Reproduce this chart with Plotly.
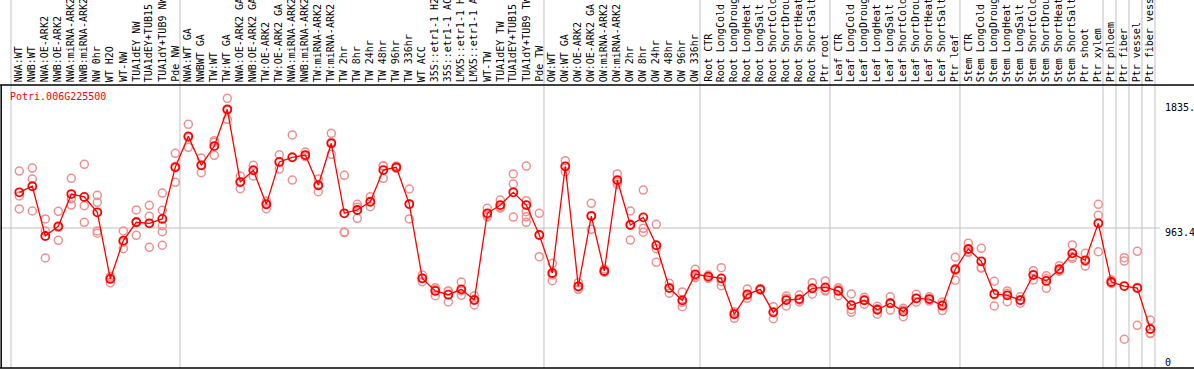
import plotly.graph_objects as go

categories = [
    "NWA:WT", "NWB:WT", "NWA:OE-ARK2", "NWB:OE-ARK2", "NWA:miRNA-ARK2", "NWB:miRNA-ARK2",
    "NW 0hr", "WT H2O", "WT-NW", "TUA1dEY NW", "TUA1dEY+TUB15", "TUA1dY+TUB9 NW", "Pde NW",
    "NWA:WT GA", "NWBWT GA", "TW:WT", "TW:WT GA", "NWA:OE-ARK2 GA", "NWB:OE-ARK2 GA",
    "TW:OE-ARK2", "TW:OE-ARK2 GA", "NWA:miRNA-ARK2", "NWB:miRNA-ARK2", "TW:miRNA-ARK2",
    "TW:miRNA-ARK2", "TW 2hr", "TW 8hr", "TW 24hr", "TW 48hr", "TW 96hr", "TW 336hr", "WT ACC",
    "35S::etr1-1 H2O", "35S::etr1-1 ACC", "LMX5::etr1-1 H2O", "LMX5::etr1-1 ACC", "WT-TW",
    "TUA1dEY TW", "TUA1dEY+TUB15", "TUA1dY+TUB9 TW", "Pde TW",
    "OW:WT", "OW:WT GA", "OW:OE-ARK2", "OW:OE-ARK2 GA", "OW:miRNA-ARK2", "OW:miRNA-ARK2",
    "OW 2hr", "OW 8hr", "OW 24hr", "OW 48hr", "OW 96hr", "OW 336hr",
    "Root CTR", "Root LongCold", "Root LongDrought", "Root LongHeat", "Root LongSalt",
    "Root ShortCold", "Root ShortDrought", "Root ShortHeat", "Root ShortSalt", "Ptr root",
    "Leaf CTR", "Leaf LongCold", "Leaf LongDrought", "Leaf LongHeat", "Leaf LongSalt",
    "Leaf ShortCold", "Leaf ShortDrought", "Leaf ShortHeat", "Leaf ShortSalt", "Ptr leaf",
    "Stem CTR", "Stem LongCold", "Stem LongDrought", "Stem LongHeat", "Stem LongSalt",
    "Stem ShortCold", "Stem ShortDrought", "Stem ShortHeat", "Stem ShortSalt", "Ptr shoot",
    "Ptr xylem", "Ptr phloem", "Ptr fiber", "Ptr vessel", "Ptr fiber vessel",
]

means = [
    1210, 1252, 908, 975, 1198, 1178, 1072, 611, 876, 1003,
    996, 1026, 1383, 1597, 1397, 1530, 1784, 1281, 1362, 1127,
    1420, 1452, 1468, 1259, 1549, 1065, 1088, 1145, 1364, 1383,
    1129, 615, 528, 502, 539, 465, 1065, 1122, 1210, 1122,
    915, 652, 1390, 560, 1046, 666, 1295, 984, 1037, 844,
    548, 463, 643, 627, 615, 367, 505, 539, 380, 465,
    472, 546, 553, 528, 429, 463, 398, 443, 385, 477,
    472, 426, 678, 818, 733, 507, 498, 465, 638, 597,
    678, 788, 740, 996, 590, 562, 548, 265,
]

replicates = [
    [1357, 1185, 1095], [1378, 1302, 1081], [1026, 942, 756], [1079, 968, 878],
    [1307, 1165, 1122], [1404, 1118, 1003], [1189, 1141, 943, 927], [620, 585, 628],
    [943, 865, 820], [1088, 1008, 913], [1120, 1044, 830], [1205, 1086, 979, 938, 844],
    [1480, 1390, 1279], [1680, 1590, 1521], [1447, 1397, 1346], [1567, 1557, 1466],
    [1860, 1777, 1715], [1323, 1285, 1235], [1397, 1366, 1323], [1150, 1134, 1097],
    [1470, 1420, 1371], [1607, 1455, 1295], [1489, 1460, 1456], [1302, 1260, 1214],
    [1618, 1556, 1473], [1328, 935, 932], [1127, 1107, 1030], [1180, 1145, 1111],
    [1392, 1393, 1307], [1392, 1381, 1376], [1233, 1128, 1026], [638, 615, 592],
    [551, 538, 495], [528, 526, 452], [590, 528, 498], [495, 470, 431],
    [1100, 1054, 1041], [1157, 1109, 1100], [1337, 1268, 1039], [1392, 1152, 1076, 1041, 1003],
    [1065, 915, 765], [719, 638, 599], [1429, 1388, 1353], [585, 556, 539],
    [1134, 1050, 954], [680, 660, 658], [1337, 1282, 1266], [1081, 991, 880],
    [1226, 961, 934], [989, 820, 726], [581, 551, 512], [521, 449, 419],
    [678, 631, 620], [638, 628, 615], [689, 592, 564], [385, 377, 339],
    [541, 497, 477], [545, 539, 533], [419, 385, 336], [493, 478, 424],
    [500, 464, 452], [585, 546, 507], [597, 527, 535], [551, 538, 495],
    [507, 400, 380], [484, 469, 436], [422, 405, 367], [488, 445, 396],
    [408, 397, 350], [505, 476, 450], [488, 470, 458], [452, 434, 392],
    [761, 671, 602], [858, 801, 795], [823, 691, 685], [595, 502, 424],
    [528, 512, 454], [488, 464, 443], [668, 642, 604], [633, 612, 546],
    [703, 665, 666], [846, 764, 754], [788, 732, 700], [1127, 1051, 799],
    [604, 586, 580], [758, 735, 194], [802, 552, 290], [327, 235, 233],
]

# sample counts per group (group separators drawn after each group)
group_sizes = [13, 28, 12, 10, 10, 11, 1, 1, 1, 1]

gene_id = "Potri.006G225500"
tick_values = [1835.5, 963.4, 0]
tick_texts = ["1835.5", "963.4", "0"]

W, H = 1194, 370
T, B = 85, 2
plot_h = H - T - B
x0_px, step_px = 19.3, 13.0
xr = [-x0_px / step_px, (W - x0_px) / step_px]
y_top_val = (367.3 - T) / 0.1446
y_bot_val = (367.3 - (H - B)) / 0.1446

xs = list(range(len(categories)))
rep_x, rep_y = [], []
for i, reps in enumerate(replicates):
    for v in reps:
        rep_x.append(i)
        rep_y.append(v)

mono = "DejaVu Sans Mono"
fig = go.Figure()
fig.add_trace(go.Scatter(
    x=rep_x, y=rep_y, mode="markers",
    marker=dict(symbol="circle-open", size=8, color="#ee9090", line=dict(width=1.5, color="#ee9090")),
    hoverinfo="skip", showlegend=False))
fig.add_trace(go.Scatter(
    x=xs, y=means, mode="lines+markers",
    line=dict(color="#ff0000", width=1.3),
    marker=dict(symbol="circle-open", size=8, color="#ff0000", line=dict(width=1.8, color="#ff0000")),
    showlegend=False))

shapes = []
top_paper = 1 + T / plot_h
# group separators
pos = -1
bounds = [pos]
for g in group_sizes:
    pos += g
    bounds.append(pos)
for b in bounds:
    shapes.append(dict(type="line", xref="x", yref="paper", x0=b + 0.36, x1=b + 0.36,
                       y0=0, y1=top_paper, line=dict(color="#c0c0c0", width=1), layer="below"))
# mid gridline
shapes.append(dict(type="line", xref="paper", yref="y", x0=0, x1=1160 / W,
                   y0=tick_values[1], y1=tick_values[1], line=dict(color="#c0c0c0", width=1), layer="below"))
# frame
shapes.append(dict(type="line", xref="paper", yref="paper", x0=0, x1=1, y0=1, y1=1,
                   line=dict(color="black", width=1.5)))
shapes.append(dict(type="line", xref="paper", yref="paper", x0=0, x1=1, y0=0, y1=0,
                   line=dict(color="black", width=1.5)))
shapes.append(dict(type="line", xref="paper", yref="paper", x0=1.2 / W, x1=1.2 / W, y0=0, y1=1,
                   line=dict(color="black", width=1.5)))

annotations = []
for i, c in enumerate(categories):
    annotations.append(dict(x=i, y=1 + 2 / plot_h, xref="x", yref="paper", text=c,
                            textangle=-90, xanchor="center", yanchor="bottom", showarrow=False,
                            borderpad=0, font=dict(family=mono, size=10, color="black")))
annotations.append(dict(x=9 / W, y=(H - B - 97) / plot_h, xref="paper", yref="paper", text=gene_id,
                        xanchor="left", yanchor="middle", showarrow=False, borderpad=0,
                        font=dict(family=mono, size=10, color="#ff0000")))
label_y_px = [107, 232, 362]
for t, ypx in zip(tick_texts, label_y_px):
    annotations.append(dict(x=1164 / W, y=(H - B - ypx) / plot_h, xref="paper", yref="paper", text=t,
                            xanchor="left", yanchor="middle", showarrow=False, borderpad=0,
                            font=dict(family=mono, size=10, color="black")))

fig.update_layout(
    width=W, height=H,
    margin=dict(l=0, r=0, t=T, b=B, pad=0),
    paper_bgcolor="white", plot_bgcolor="white",
    xaxis=dict(range=xr, showgrid=False, zeroline=False, showticklabels=False, ticks=""),
    yaxis=dict(range=[y_bot_val, y_top_val], showgrid=False, zeroline=False, showticklabels=False, ticks=""),
    shapes=shapes, annotations=annotations,
)
fig.write_html("out.html", config={"displayModeBar": False},
               post_script="document.body.style.margin='0';document.body.style.overflow='hidden';")
